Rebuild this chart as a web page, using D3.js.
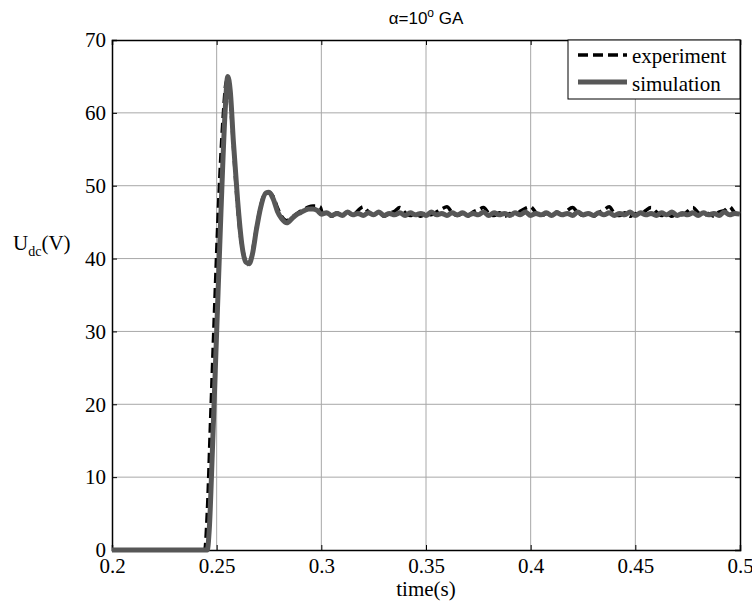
<!DOCTYPE html>
<html>
<head>
<meta charset="utf-8">
<script src="https://cdn.jsdelivr.net/npm/d3@7"></script>
<style>
  body { margin: 0; background: #fff; }
  svg { display: block; }
</style>
</head>
<body>
<svg id="chart" width="752" height="607"></svg>
<script>
// x ticks / y ticks
const xTicks = [0.2, 0.25, 0.3, 0.35, 0.4, 0.45, 0.5];
const yTicks = [0, 10, 20, 30, 40, 50, 60, 70];

// transient part, simulation (gray)
const simT = [0.2, 0.2455, 0.2465, 0.248, 0.25, 0.252, 0.254, 0.2553, 0.2565, 0.258, 0.26, 0.262, 0.264, 0.2655,
  0.267, 0.269, 0.271, 0.2735, 0.275, 0.277, 0.279, 0.281, 0.2835, 0.286, 0.288, 0.29, 0.292, 0.294, 0.296, 0.298, 0.3];
const simV = [0, 0, 3, 14, 30, 46, 60, 65, 63, 56, 48, 42, 39.5, 39.3,
  40.5, 44, 47, 49, 49.1, 48.2, 46.5, 45.5, 44.9, 45.5, 46, 46.3, 46.6, 46.8, 46.8, 46.6, 46.1];

// transient part, experiment (black dashed)
const expT = [0.2, 0.2443, 0.2455, 0.247, 0.249, 0.251, 0.253, 0.2548, 0.2558, 0.2572, 0.259, 0.261, 0.263, 0.2648,
  0.2665, 0.268, 0.2705, 0.2728, 0.2748, 0.277, 0.279, 0.281, 0.2835, 0.286, 0.288, 0.29, 0.292, 0.294, 0.296, 0.298, 0.2995, 0.3005];
const expV = [0, 0, 5, 17, 33, 48, 59, 64.5, 64, 59, 51, 44, 40.5, 39.2,
  40, 42.5, 46.5, 48.8, 49.1, 48.5, 47, 45.8, 45.2, 45.7, 46.1, 46.5, 46.8, 47.1, 47.2, 47.2, 47.1, 46.2];

// steady state sample times
const steadyT = [0.3025, 0.305, 0.3075, 0.31, 0.3125, 0.315, 0.3175, 0.32, 0.3225, 0.325,
  0.3275, 0.33, 0.3325, 0.335, 0.3375, 0.34, 0.3425, 0.345, 0.3475, 0.35,
  0.3525, 0.355, 0.3575, 0.36, 0.3625, 0.365, 0.3675, 0.37, 0.3725, 0.375,
  0.3775, 0.38, 0.3825, 0.385, 0.3875, 0.39, 0.3925, 0.395, 0.3975, 0.4,
  0.4025, 0.405, 0.4075, 0.41, 0.4125, 0.415, 0.4175, 0.42, 0.4225, 0.425,
  0.4275, 0.43, 0.4325, 0.435, 0.4375, 0.44, 0.4425, 0.445, 0.4475, 0.45,
  0.4525, 0.455, 0.4575, 0.46, 0.4625, 0.465, 0.4675, 0.47, 0.4725, 0.475,
  0.4775, 0.48, 0.4825, 0.485, 0.4875, 0.49, 0.4925, 0.495, 0.4975, 0.5];

const simSteady = [46.3, 45.9, 46.2, 45.9, 46.4, 46.0, 46.2, 45.9, 46.3, 46.0,
  46.4, 45.9, 46.2, 46.0, 46.3, 45.9, 46.3, 46.0, 46.2, 45.9,
  46.4, 46.0, 46.2, 45.9, 46.3, 46.0, 46.3, 45.9, 46.2, 46.0,
  46.4, 45.9, 46.3, 46.0, 46.2, 45.9, 46.3, 46.0, 46.4, 45.9,
  46.2, 46.0, 46.3, 45.9, 46.3, 46.0, 46.2, 45.9, 46.4, 46.0,
  46.2, 45.9, 46.3, 46.0, 46.3, 45.9, 46.2, 46.0, 46.4, 45.9,
  46.3, 46.0, 46.2, 45.9, 46.3, 46.0, 46.4, 45.9, 46.2, 46.0,
  46.3, 45.9, 46.3, 46.0, 46.2, 45.9, 46.4, 46.0, 46.2, 46.1];

const expSteady = [46.2, 45.8, 46.3, 46.0, 46.4, 45.9, 46.6, 47.1, 46.4, 46.0,
  46.3, 45.8, 46.2, 46.5, 47.0, 46.3, 45.9, 46.2, 45.8, 46.3,
  46.0, 46.4, 46.8, 47.1, 46.3, 45.9, 46.2, 45.8, 46.4, 46.7,
  47.0, 46.2, 45.9, 46.3, 45.8, 46.2, 46.0, 46.5, 46.9, 47.1,
  46.3, 45.8, 46.2, 45.9, 46.4, 46.0, 46.6, 47.0, 46.3, 45.9,
  46.2, 45.8, 46.3, 46.7, 47.1, 46.2, 45.9, 46.3, 45.8, 46.2,
  46.0, 46.6, 47.0, 46.4, 45.9, 46.2, 45.8, 46.3, 46.0, 46.5,
  47.0, 46.3, 45.9, 46.2, 45.8, 46.4, 46.6, 47.1, 46.3, 46.0];

const legendLabels = ['experiment', 'simulation'];

// build the two series
const simData = simT.map((t, i) => [t, simV[i]])
  .concat(steadyT.map((t, i) => [t, simSteady[i]]));
const expData = expT.map((t, i) => [t, expV[i]])
  .concat(steadyT.map((t, i) => [t, expSteady[i]]));

const margin = { left: 112, right: 12, top: 40, bottom: 57 };
const W = 752, H = 607;
const svg = d3.select('#chart');

const x = d3.scaleLinear().domain([0.2, 0.5]).range([margin.left, W - margin.right]);
const y = d3.scaleLinear().domain([0, 70]).range([H - margin.bottom, margin.top]);

const serif = 'Liberation Serif, Times New Roman, serif';

// grid
svg.append('g').selectAll('line.gx')
  .data(xTicks.slice(1, -1)).join('line')
  .attr('x1', d => x(d)).attr('x2', d => x(d))
  .attr('y1', y(0)).attr('y2', y(70))
  .attr('stroke', '#a8a8a8').attr('stroke-width', 1);
svg.append('g').selectAll('line.gy')
  .data(yTicks.slice(1, -1)).join('line')
  .attr('x1', x(0.2)).attr('x2', x(0.5))
  .attr('y1', d => y(d)).attr('y2', d => y(d))
  .attr('stroke', '#a8a8a8').attr('stroke-width', 1);

// axes, ticks pointing inward on all sides
const axB = svg.append('g').attr('transform', `translate(0,${y(0)})`)
  .call(d3.axisBottom(x).tickValues(xTicks).tickSize(-5).tickPadding(8).tickFormat(d3.format('')));
const axT = svg.append('g').attr('transform', `translate(0,${y(70)})`)
  .call(d3.axisTop(x).tickValues(xTicks).tickSize(-5).tickFormat(''));
const axL = svg.append('g').attr('transform', `translate(${x(0.2)},0)`)
  .call(d3.axisLeft(y).tickValues(yTicks).tickSize(-5).tickPadding(6));
const axR = svg.append('g').attr('transform', `translate(${x(0.5)},0)`)
  .call(d3.axisRight(y).tickValues(yTicks).tickSize(-5).tickFormat(''));

[axB, axT, axL, axR].forEach(a => {
  a.select('.domain').attr('stroke', '#000').attr('stroke-width', 1.5);
  a.selectAll('.tick line').attr('stroke', '#000').attr('stroke-width', 1);
  a.selectAll('text').attr('font-family', serif).attr('font-size', 21).attr('fill', '#000');
});
axB.selectAll('text').attr('dy', '0.71em');

// curves
const line = d3.line().x(d => x(d[0])).y(d => y(d[1])).curve(d3.curveMonotoneX);

svg.append('path').datum(expData)
  .attr('d', line).attr('fill', 'none')
  .attr('stroke', '#000').attr('stroke-width', 3.5)
  .attr('stroke-dasharray', '10,5');

svg.append('path').datum(simData)
  .attr('d', line).attr('fill', 'none')
  .attr('stroke', '#575757').attr('stroke-width', 5)
  .attr('stroke-linejoin', 'round');

// legend
const lg = svg.append('g');
lg.append('rect').attr('x', 568).attr('y', 40).attr('width', 172).attr('height', 59)
  .attr('fill', '#fff').attr('stroke', '#000').attr('stroke-width', 1);
lg.append('line').attr('x1', 578).attr('x2', 627).attr('y1', 55).attr('y2', 55)
  .attr('stroke', '#000').attr('stroke-width', 3.5).attr('stroke-dasharray', '10,5');
lg.append('line').attr('x1', 578).attr('x2', 627).attr('y1', 82).attr('y2', 82)
  .attr('stroke', '#575757').attr('stroke-width', 5);
lg.selectAll('text').data(legendLabels).join('text')
  .attr('x', 632).attr('y', (d, i) => 63 + i * 28)
  .attr('font-family', serif).attr('font-size', 21).text(d => d);

// title
const title = svg.append('text').attr('x', x(0.35)).attr('y', 24)
  .attr('text-anchor', 'middle')
  .attr('font-family', 'Liberation Sans, Arial, sans-serif').attr('font-size', 17);
title.append('tspan').text('α=10');
title.append('tspan').attr('dy', -7).attr('font-size', 12).text('o');
title.append('tspan').attr('dy', 7).text(' GA');

// axis labels
svg.append('text').attr('x', x(0.35)).attr('y', 596)
  .attr('text-anchor', 'middle').attr('font-family', serif).attr('font-size', 21)
  .text('time(s)');

const yl = svg.append('text').attr('x', 13).attr('y', 250)
  .attr('font-family', serif).attr('font-size', 21);
yl.append('tspan').text('U');
yl.append('tspan').attr('dy', 6).attr('font-size', 14).text('dc');
yl.append('tspan').attr('dy', -6).text('(V)');
</script>
</body>
</html>
